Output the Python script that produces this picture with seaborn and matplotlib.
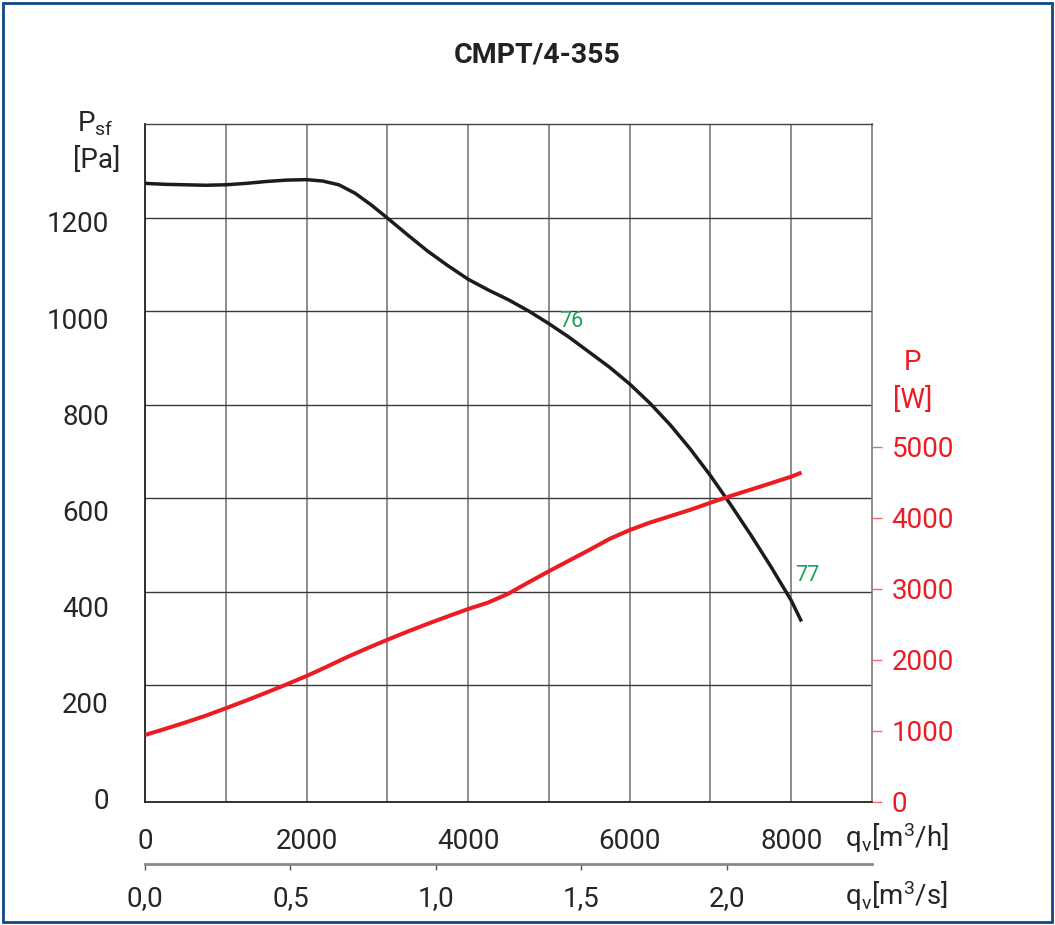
import numpy as np
import pandas as pd
import matplotlib
matplotlib.use("Agg")
import matplotlib.pyplot as plt
from matplotlib.ticker import FixedLocator, FixedFormatter, NullFormatter
from matplotlib.patches import Rectangle
import seaborn as sns

# ---- data ----
flow_psf = [0, 250, 500, 750, 1000, 1250, 1500, 1750, 2000, 2200, 2400, 2600, 2800,
            3000, 3250, 3500, 3750, 4000, 4250, 4500, 4750, 5000, 5250, 5500, 5750,
            6000, 6250, 6500, 6750, 7000, 7250, 7500, 7750, 8000, 8127]
psf = [1273, 1271, 1270, 1269, 1270, 1273, 1277, 1280, 1281, 1278, 1270, 1252, 1227,
       1199, 1163, 1128, 1097, 1068, 1045, 1024, 1000, 973, 944, 912, 880,
       844, 803, 757, 705, 648, 586, 521, 453, 381, 336]

flow_pow = [0, 250, 500, 750, 1000, 1250, 1500, 1750, 2000, 2250, 2500, 2750, 3000,
            3250, 3500, 3750, 4000, 4250, 4500, 4750, 5000, 5250, 5500, 5750, 6000,
            6250, 6500, 6750, 7000, 7250, 7500, 7750, 8000, 8127]
power = [944, 1030, 1120, 1215, 1320, 1428, 1540, 1655, 1775, 1905, 2040, 2165, 2285,
         2400, 2510, 2615, 2718, 2810, 2935, 3095, 3250, 3400, 3550, 3705, 3830,
         3935, 4025, 4115, 4215, 4310, 4400, 4490, 4582, 4640]

psf_ticks = [0, 200, 400, 600, 800, 1000, 1200]
power_ticks = [0, 1000, 2000, 3000, 4000, 5000]
flow_ticks = [0, 2000, 4000, 6000, 8000]
flow_s_ticks = [0.0, 0.5, 1.0, 1.5, 2.0]
flow_s_labels = ["0,0", "0,5", "1,0", "1,5", "2,0"]
title = "CMPT/4-355"
eff_labels = [("76", 5272, 978), ("77", 8193, 434)]

df_psf = pd.DataFrame({"flow": flow_psf, "psf": psf})
df_pow = pd.DataFrame({"flow": flow_pow, "power": power})

sns.set_theme(style="white")
plt.rcParams["font.family"] = ["Roboto", "DejaVu Sans"]
plt.rcParams["mathtext.default"] = "regular"

W, H = 1055, 925
fig = plt.figure(figsize=(W / 100, H / 100), dpi=100)
L, R, T, B = 145, 872, 124, 802
ax = fig.add_axes([L / W, (H - B) / H, (R - L) / W, (B - T) / H])

BLACK = "#1c1c1c"
RED = "#ec1c24"
TXT = "#262626"
GREEN = "#1aa257"
FS = 20

sns.lineplot(data=df_psf, x="flow", y="psf", ax=ax, color=BLACK, linewidth=2.5,
             sort=False, estimator=None, solid_joinstyle="round", solid_capstyle="butt")
ax.set_xlim(0, 9000)
ax.set_ylim(-50, 1400)
ax.set_xlabel("")
ax.set_ylabel("")

# grid: vertical every 1000, horizontal 200..1200
ax.xaxis.set_major_locator(FixedLocator(flow_ticks))
ax.xaxis.set_major_formatter(FixedFormatter([str(v) for v in flow_ticks]))
ax.xaxis.set_minor_locator(FixedLocator([1000, 3000, 5000, 7000]))
ax.grid(True, which="both", axis="x", color="#7a7a7a", linewidth=1.2)

ax.yaxis.set_major_locator(FixedLocator([200, 400, 600, 800, 1000, 1200]))
ax.yaxis.set_major_formatter(NullFormatter())
ax.grid(True, which="major", axis="y", color="#3a3a3a", linewidth=1.0)
# labels placed as in the reference (slightly stretched scale)
lab_pos = [v * 1.028 - 43 for v in psf_ticks]
ax.yaxis.set_minor_locator(FixedLocator(lab_pos))
ax.yaxis.set_minor_formatter(FixedFormatter([str(v) for v in psf_ticks]))
ax.tick_params(axis="y", which="both", length=0, labelsize=FS, labelcolor=TXT, pad=26)
ax.tick_params(axis="x", which="both", length=0, labelsize=FS, labelcolor=TXT, pad=19)

for s in ["left", "bottom"]:
    ax.spines[s].set_color("#222222")
    ax.spines[s].set_linewidth(1.3)
ax.spines["top"].set_color("#444444")
ax.spines["top"].set_linewidth(1.0)
ax.spines["right"].set_color("#7a7a7a")
ax.spines["right"].set_linewidth(1.2)
ax.set_axisbelow(True)

for txt, xv, yv in eff_labels:
    ax.text(xv, yv, txt, color=GREEN, fontsize=15.5, ha="center", va="center")

# right axis: power
ax2 = ax.twinx()
sns.lineplot(data=df_pow, x="flow", y="power", ax=ax2, color=RED, linewidth=2.9,
             sort=False, estimator=None, solid_joinstyle="round", solid_capstyle="butt")
ax2.set_ylim(0, 9549)
ax2.set_ylabel("")
ax2.set_yticks(power_ticks)
ax2.set_yticklabels([str(v) for v in power_ticks])
ax2.tick_params(axis="y", length=7, width=1.0, color="#f06a70", labelcolor=RED,
                labelsize=FS, pad=7)
ax2.grid(False)
for s in ax2.spines.values():
    s.set_visible(False)
ax2.set_xlim(0, 9000)

# secondary x axis in m3/s
sec = ax.secondary_xaxis(-62 / (B - T), functions=(lambda x: x / 3600.0, lambda x: x * 3600.0))
sec.set_xticks(flow_s_ticks)
sec.set_xticklabels(flow_s_labels)
sec.tick_params(axis="x", direction="out", length=4, width=1.0, color="#555555",
                labelsize=FS, labelcolor=TXT, pad=11)
sec.spines["bottom"].set_color("#8a8a8a")
sec.spines["bottom"].set_linewidth(2.0)

# axis titles
fig.text(537 / W, 1 - 55 / H, title, ha="center", va="center", fontsize=20.5,
         fontweight="bold", color="#222222")
fig.text(114 / W, 1 - 132 / H, r"P$_\mathregular{sf}$", ha="right", va="baseline",
         fontsize=FS, color=TXT)
fig.text(120 / W, 1 - 160 / H, "[Pa]", ha="right", va="center", fontsize=FS, color=TXT)
fig.text(913 / W, 1 - 362 / H, "P", ha="center", va="center", fontsize=FS, color=RED)
fig.text(913 / W, 1 - 400 / H, "[W]", ha="center", va="center", fontsize=FS, color=RED)
fig.text(845 / W, 1 - 838 / H, r"q$_\mathregular{v}$[m$^\mathregular{3}$/h]", ha="left",
         va="center", fontsize=FS, color=TXT)
fig.text(845 / W, 1 - 896 / H, r"q$_\mathregular{v}$[m$^\mathregular{3}$/s]", ha="left",
         va="center", fontsize=FS, color=TXT)

# outer frame
fig.patches.append(Rectangle((2.5 / W, 3.5 / H), 1049.5 / W, 919 / H,
                             transform=fig.transFigure, fill=False,
                             edgecolor="#0e4a86", linewidth=2))

fig.savefig("out.png", dpi=100)
